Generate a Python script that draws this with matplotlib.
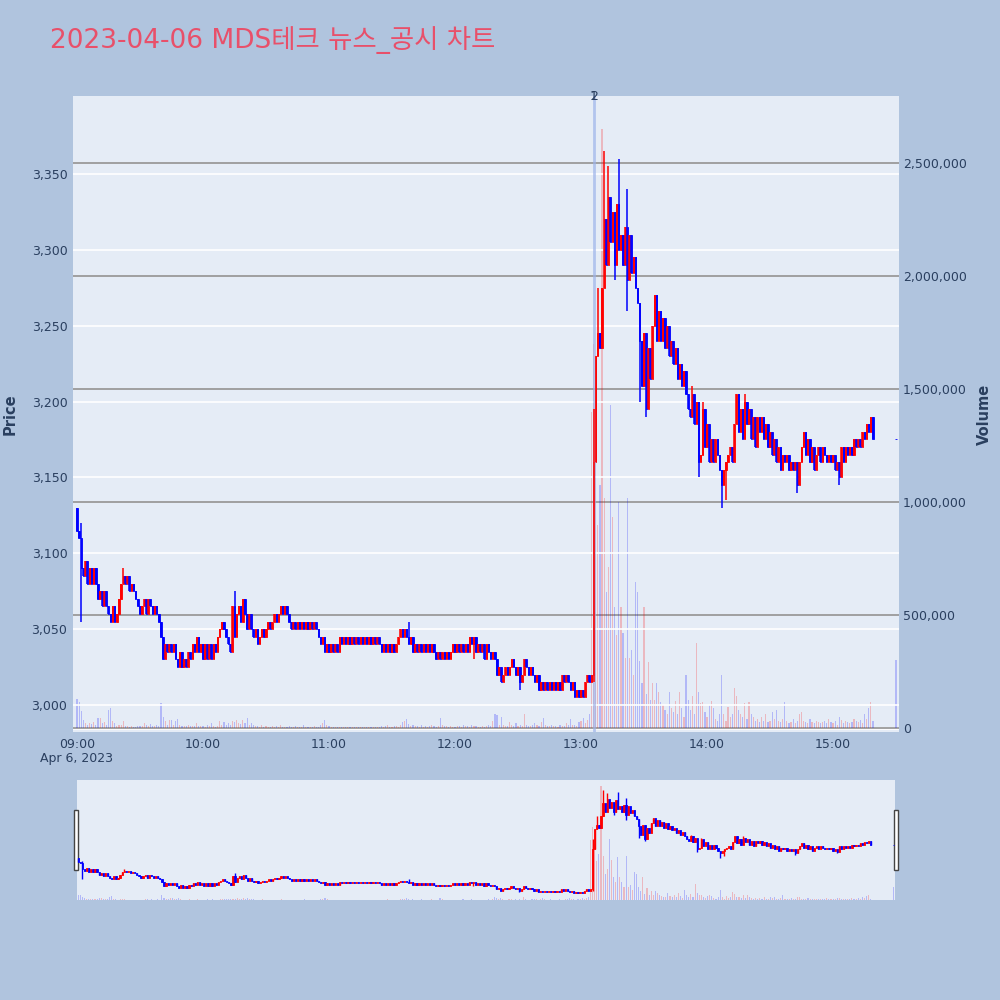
import matplotlib
matplotlib.use('Agg')
import matplotlib.pyplot as plt
import matplotlib.transforms as mtransforms
from matplotlib.patches import Rectangle
from matplotlib.ticker import FuncFormatter

plt.rcParams['font.family'] = ['DejaVu Sans', 'Noto Sans CJK KR']

# Data
# --------------
title = '2023-04-06 MDS테크 뉴스_공시 차트'
first_open = 3130

# 1-minute closes from 09:00 (minute 0) to 15:19, last value = 15:30 closing auction
closes = [
    3115, 3110, 3090, 3085, 3095, 3080, 3090, 3080, 3090, 3080,
    3070, 3075, 3065, 3075, 3065, 3060, 3055, 3065, 3055, 3060,
    3070, 3080, 3085, 3080, 3085, 3075, 3080, 3075, 3070, 3065,
    3060, 3065, 3070, 3060, 3070, 3065, 3060, 3065, 3060, 3055,
    3045, 3030, 3040, 3035, 3040, 3035, 3040, 3030, 3025, 3035,
    3025, 3030, 3025, 3035, 3030, 3040, 3035, 3045, 3035, 3040,
    3030, 3040, 3030, 3040, 3030, 3040, 3035, 3045, 3050, 3055,
    3050, 3045, 3040, 3035, 3065, 3045, 3060, 3065, 3055, 3070,
    3060, 3050, 3060, 3050, 3045, 3050, 3040, 3045, 3050, 3045,
    3050, 3055, 3050, 3055, 3060, 3055, 3060, 3065, 3060, 3065,
    3060, 3055, 3050, 3055, 3050, 3055, 3050, 3055, 3050, 3055,
    3050, 3055, 3050, 3055, 3050, 3045, 3040, 3045, 3035, 3040,
    3035, 3040, 3035, 3040, 3035, 3045, 3040, 3045, 3040, 3045,
    3040, 3045, 3040, 3045, 3040, 3045, 3040, 3045, 3040, 3045,
    3040, 3045, 3040, 3045, 3040, 3035, 3040, 3035, 3040, 3035,
    3040, 3035, 3040, 3045, 3050, 3045, 3050, 3045, 3040, 3045,
    3035, 3040, 3035, 3040, 3035, 3040, 3035, 3040, 3035, 3040,
    3035, 3030, 3035, 3030, 3035, 3030, 3035, 3030, 3035, 3040,
    3035, 3040, 3035, 3040, 3035, 3040, 3035, 3045, 3040, 3045,
    3035, 3040, 3035, 3040, 3030, 3040, 3035, 3030, 3035, 3030,
    3020, 3025, 3015, 3020, 3025, 3020, 3025, 3030, 3025, 3020,
    3025, 3015, 3020, 3030, 3025, 3020, 3025, 3020, 3015, 3020,
    3010, 3015, 3010, 3015, 3010, 3015, 3010, 3015, 3010, 3015,
    3010, 3020, 3015, 3020, 3015, 3010, 3015, 3005, 3010, 3005,
    3010, 3005, 3015, 3020, 3015, 3020, 3160, 3230, 3245, 3235,
    3275, 3320, 3290, 3335, 3305, 3325, 3290, 3330, 3300, 3310,
    3290, 3315, 3280, 3310, 3285, 3295, 3275, 3265, 3240, 3210,
    3245, 3195, 3235, 3215, 3250, 3270, 3240, 3260, 3240, 3255,
    3235, 3250, 3230, 3240, 3225, 3235, 3215, 3225, 3210, 3220,
    3205, 3195, 3190, 3205, 3185, 3200, 3160, 3165, 3195, 3170,
    3185, 3160, 3175, 3160, 3175, 3165, 3155, 3145, 3155, 3160,
    3165, 3170, 3160, 3185, 3205, 3180, 3195, 3175, 3200, 3185,
    3195, 3175, 3190, 3170, 3190, 3180, 3190, 3175, 3185, 3170,
    3180, 3165, 3175, 3160, 3170, 3155, 3165, 3160, 3165, 3155,
    3160, 3155, 3160, 3145, 3160, 3170, 3180, 3165, 3175, 3160,
    3170, 3155, 3165, 3170, 3160, 3170, 3165, 3160, 3165, 3160,
    3165, 3155, 3160, 3150, 3170, 3160, 3170, 3165, 3170, 3165,
    3175, 3170, 3175, 3170, 3180, 3175, 3185, 3180, 3190, 3175,
    3175,
]

# volume per minute, thousands of shares
volumes_k = [
    128, 116, 77, 35, 20, 15, 22, 18, 25, 12,
    46, 43, 22, 25, 12, 80, 87, 30, 22, 10,
    15, 12, 30, 10, 8, 6, 8, 5, 6, 7,
    8, 10, 22, 12, 8, 18, 10, 8, 15, 10,
    109, 49, 30, 12, 37, 35, 15, 30, 40, 12,
    10, 8, 8, 15, 10, 8, 7, 22, 10, 8,
    10, 6, 12, 7, 22, 8, 6, 10, 30, 12,
    28, 15, 20, 12, 30, 25, 35, 22, 18, 35,
    20, 45, 15, 20, 12, 8, 10, 6, 12, 5,
    8, 6, 5, 10, 4, 8, 5, 12, 6, 4,
    5, 8, 4, 6, 10, 5, 4, 6, 12, 5,
    4, 6, 5, 8, 4, 5, 12, 20, 35, 15,
    8, 5, 6, 4, 5, 3, 4, 5, 3, 4,
    5, 4, 6, 3, 4, 5, 3, 4, 5, 6,
    4, 5, 3, 6, 4, 8, 5, 10, 12, 6,
    5, 8, 10, 6, 12, 25, 30, 40, 18, 10,
    15, 8, 10, 6, 12, 5, 8, 6, 10, 12,
    8, 6, 10, 43, 12, 8, 10, 6, 8, 5,
    6, 8, 10, 5, 12, 8, 10, 6, 15, 8,
    10, 6, 5, 8, 6, 10, 12, 8, 30, 62,
    58, 15, 50, 12, 8, 10, 25, 12, 8, 20,
    10, 12, 8, 62, 15, 10, 8, 12, 20, 15,
    10, 25, 43, 12, 8, 10, 12, 8, 10, 6,
    12, 8, 10, 20, 15, 38, 12, 15, 10, 25,
    30, 43, 20, 35, 60, 1400, 1700, 1300, 900, 1075,
    2650, 1020, 600, 714, 1430, 935, 537, 411, 1000, 537,
    420, 310, 1020, 310, 345, 235, 648, 600, 295, 200,
    537, 150, 290, 125, 200, 125, 200, 160, 115, 100,
    80, 60, 160, 90, 70, 120, 60, 160, 90, 50,
    235, 125, 80, 140, 60, 375, 160, 110, 115, 70,
    50, 100, 120, 90, 40, 30, 60, 235, 60, 30,
    95, 50, 60, 175, 140, 80, 60, 50, 110, 40,
    115, 60, 50, 30, 40, 25, 50, 30, 60, 25,
    30, 70, 40, 80, 30, 25, 40, 117, 30, 20,
    25, 40, 20, 30, 60, 70, 30, 25, 20, 40,
    25, 20, 30, 25, 20, 25, 30, 20, 40, 25,
    20, 30, 15, 50, 35, 20, 30, 25, 20, 25,
    40, 30, 25, 35, 20, 60, 40, 90, 117, 30,
    300,
]

# wicks beyond the bodies: minute -> price
wick_hi = {2: 3120, 22: 3090, 75: 3075, 158: 3055, 189: 3045, 246: 3195,
           248: 3275, 251: 3365, 253: 3355, 258: 3360, 262: 3340,
           293: 3210, 298: 3200, 314: 3205, 318: 3205}
wick_lo = {2: 3055, 189: 3030, 211: 3010, 246: 3015, 247: 3170, 256: 3280,
           262: 3260, 268: 3200, 271: 3190, 296: 3150, 307: 3130,
           309: 3135, 343: 3140, 363: 3145}

news_minute = 246
news_labels = ['1', '2']
hour_labels = ['09:00', '10:00', '11:00', '12:00', '13:00', '14:00', '15:00']
price_ticks = [3000, 3050, 3100, 3150, 3200, 3250, 3300, 3350]
volume_ticks = [0, 500000, 1000000, 1500000, 2000000, 2500000]

# minute index (15:30 auction sits apart at 390)
minutes = list(range(len(closes) - 1)) + [390]
opens = [first_open] + closes[:-1]
highs = [max(o, c, wick_hi.get(m, 0)) for m, o, c in zip(minutes, opens, closes)]
lows = [min(o, c, wick_lo.get(m, 99999)) for m, o, c in zip(minutes, opens, closes)]
volumes = [v * 1000 for v in volumes_k]

UP, DOWN = '#FF0000', '#0000FF'
cols = [UP if c > o else DOWN for o, c in zip(opens, closes)]
vcols = [(1, 0, 0, 0.22) if c == UP else (0, 0, 1, 0.22) for c in cols]
bottoms = [min(o, c) for o, c in zip(opens, closes)]
heights = [max(abs(c - o), 0.6) for o, c in zip(opens, closes)]

BG = '#B0C4DE'
PLOT_BG = '#E5ECF6'
TXT = '#2a3f5f'
PRICE_LIM = (2982.2, 3401.4)
VOL_LIM = (-17700, 2797000)


def draw_candles(ax_p, ax_v, wick_lw, body_w, body_lw, vol_w):
    ax_v.bar(minutes, volumes, width=vol_w, color=vcols, linewidth=0)
    ax_p.vlines(minutes, lows, highs, colors=cols, linewidth=wick_lw)
    ax_p.bar(minutes, heights, bottom=bottoms, width=body_w, color=cols,
             edgecolor=cols, linewidth=body_lw)


fig = plt.figure(figsize=(10, 10), dpi=100)
fig.patch.set_facecolor(BG)

# Main chart
# --------------
rect = [0.073, 0.268, 0.826, 0.636]
ax_p = fig.add_axes(rect)
ax_v = ax_p.twinx()
ax_p.set_zorder(2)
ax_v.set_zorder(1)
ax_p.patch.set_visible(False)
ax_v.patch.set_visible(True)
ax_v.patch.set_facecolor(PLOT_BG)

draw_candles(ax_p, ax_v, 1.1, 0.6, 0.6, 0.55)

ax_p.set_xlim(-1.9, 391.4)
ax_p.set_ylim(*PRICE_LIM)
ax_v.set_ylim(*VOL_LIM)

for a in (ax_p, ax_v):
    for s in a.spines.values():
        s.set_visible(False)
    a.tick_params(length=0, labelsize=9, labelcolor=TXT)

ax_p.set_yticks(price_ticks)
ax_p.yaxis.set_major_formatter(FuncFormatter(lambda v, p: f'{int(v):,}'))
ax_p.tick_params(axis='y', pad=4)
ax_p.yaxis.grid(True, color='white', linewidth=1.2)
ax_p.set_axisbelow(True)

ax_v.set_yticks(volume_ticks)
ax_v.yaxis.set_major_formatter(FuncFormatter(lambda v, p: f'{int(v):,}'))
ax_v.tick_params(axis='y', pad=3)
ax_v.yaxis.grid(True, color='#9a9a9a', linewidth=1.3)
ax_v.set_axisbelow(True)
ax_v.axhline(0, color='white', linewidth=2, zorder=0.5)

ax_p.set_xticks([i * 60 for i in range(len(hour_labels))])
ax_p.set_xticklabels(hour_labels)
ax_p.tick_params(axis='x', pad=4)
trans = mtransforms.blended_transform_factory(ax_p.transData, ax_p.transAxes)
ax_p.text(0, -0.041, 'Apr 6, 2023', transform=trans, ha='center', va='center',
          fontsize=9, color=TXT)

# news marker
ax_p.axvline(news_minute, color='#9db3ea', linewidth=2, alpha=0.7, zorder=1)
for lab in news_labels:
    ax_p.text(news_minute, 1.0, lab, transform=trans, ha='center', va='center',
              fontsize=9, color=TXT)

fig.text(0.010, 0.586, 'Price', rotation=90, ha='center', va='center',
         fontsize=10.5, fontweight='bold', color=TXT)
fig.text(0.984, 0.586, 'Volume', rotation=90, ha='center', va='center',
         fontsize=10.5, fontweight='bold', color=TXT)
fig.text(0.05, 0.96, title, ha='left', va='center', fontsize=19, color='#E8506A')

# Range slider
# --------------
srect = [0.077, 0.100, 0.818, 0.120]
ax_sp = fig.add_axes(srect)
ax_sv = ax_sp.twinx()
ax_sp.set_zorder(2)
ax_sv.set_zorder(1)
ax_sp.patch.set_visible(False)
ax_sv.patch.set_visible(True)
ax_sv.patch.set_facecolor(PLOT_BG)
draw_candles(ax_sp, ax_sv, 1.0, 0.6, 0.6, 0.5)
ax_sp.set_xlim(-0.6, 390.6)
ax_sp.set_ylim(*PRICE_LIM)
ax_sv.set_ylim(0, VOL_LIM[1])
for a in (ax_sp, ax_sv):
    for s in a.spines.values():
        s.set_visible(False)
    a.set_xticks([])
    a.set_yticks([])

for hx in (0.074, 0.894):
    fig.patches.append(Rectangle((hx, 0.130), 0.004, 0.060, transform=fig.transFigure,
                                 facecolor='white', edgecolor='#444444', linewidth=1))

plt.savefig('out.png', dpi=100, facecolor=BG)
